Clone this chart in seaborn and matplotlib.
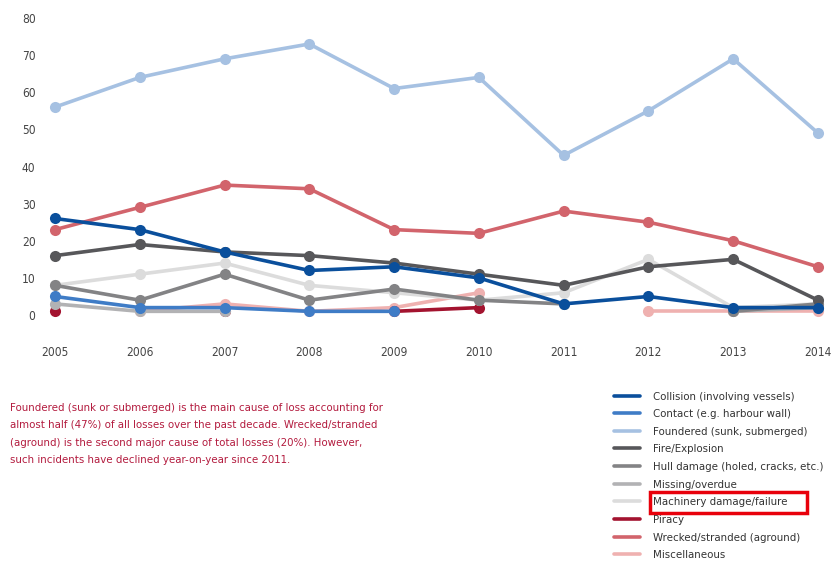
import numpy as np
import pandas as pd
import seaborn as sns
import matplotlib
matplotlib.use("Agg")
import matplotlib.pyplot as plt
from matplotlib.lines import Line2D
from matplotlib.patches import Rectangle
from matplotlib import font_manager

years = [2005, 2006, 2007, 2008, 2009, 2010, 2011, 2012, 2013, 2014]
nan = np.nan

collision = [26, 23, 17, 12, 13, 10, 3, 5, 2, 2]
contact = [5, 2, 2, 1, 1, nan, nan, nan, nan, nan]
foundered = [56, 64, 69, 73, 61, 64, 43, 55, 69, 49]
fire = [16, 19, 17, 16, 14, 11, 8, 13, 15, 4]
hull = [8, 4, 11, 4, 7, 4, 3, nan, 1, 3]
missing = [3, 1, 1, nan, nan, nan, nan, nan, 1, 2]
machinery = [8, 11, 14, 8, 6, 4, 6, 15, 2, 3]
piracy = [1, nan, 1, nan, 1, 2, nan, nan, nan, nan]
wrecked = [23, 29, 35, 34, 23, 22, 28, 25, 20, 13]
misc = [nan, 1, 3, 1, 2, 6, nan, 1, 1, 1]

labels = [
    "Collision (involving vessels)",
    "Contact (e.g. harbour wall)",
    "Foundered (sunk, submerged)",
    "Fire/Explosion",
    "Hull damage (holed, cracks, etc.)",
    "Missing/overdue",
    "Machinery damage/failure",
    "Piracy",
    "Wrecked/stranded (aground)",
    "Miscellaneous",
]
series = [collision, contact, foundered, fire, hull, missing,
          machinery, piracy, wrecked, misc]
colors = ["#0a4f9c", "#3f7cc6", "#a6c1e2", "#57575a", "#838385",
          "#b2b2b4", "#dcdcdc", "#a3132f", "#d2646c", "#efb1b0"]

note = ("Foundered (sunk or submerged) is the main cause of loss accounting for\n"
        "almost half (47%) of all losses over the past decade. Wrecked/stranded\n"
        "(aground) is the second major cause of total losses (20%). However,\n"
        "such incidents have declined year-on-year since 2011.")

sns.set_theme(style="white")

# prefer a condensed face when one is installed
condensed = [f for f in font_manager.fontManager.ttflist
             if "Condensed" in f.fname and "Bold" not in f.fname
             and "Oblique" not in f.fname and "Italic" not in f.fname]
if condensed:
    fam = condensed[0].name
    plt.rcParams["font.stretch"] = condensed[0].stretch
    size_scale = 1.0
else:
    fam = "Liberation Sans"
    size_scale = 0.92
plt.rcParams["font.family"] = [fam, "DejaVu Sans"]

fig = plt.figure(figsize=(8.33, 5.64), dpi=100)
ax = fig.add_axes([0.066, 0.4085, 0.916, 0.5596])

# draw each contiguous run of a series so missing years leave gaps
for lab, vals, col in reversed(list(zip(labels, series, colors))):
    df = pd.DataFrame({"year": years, "value": vals})
    ok = df["value"].notna()
    run_id = (~ok).cumsum()
    for _, seg in df[ok].groupby(run_id[ok]):
        sns.lineplot(data=seg, x="year", y="value", ax=ax, color=col,
                     linewidth=2.6, marker="o", markersize=8,
                     markeredgewidth=0, legend=False, clip_on=False)

ax.set_xlim(2005, 2014)
ax.set_ylim(-5, 80)
ax.set_yticks(range(0, 81, 10))
ax.set_xticks(years)
ax.set_xticklabels([str(y) for y in years])
ax.set_xlabel("")
ax.set_ylabel("")
for s in ax.spines.values():
    s.set_visible(False)
ax.tick_params(axis="both", length=0, labelsize=8.6 * size_scale, colors="#444444")
ax.tick_params(axis="y", pad=14)
ax.tick_params(axis="x", pad=9)

fig.text(0.012, 0.286, note, ha="left", va="top", fontsize=8.2 * size_scale,
         color="#b31b3e", linespacing=1.94)

lfs = 8.2 * size_scale
handles = [Line2D([0], [0], color=c, linewidth=2.6) for c in colors]
leg = fig.legend(handles, labels, loc="upper left",
                 bbox_to_anchor=(0.7316, 0.3138), frameon=False,
                 fontsize=lfs, handlelength=2.28, handletextpad=1.14,
                 labelspacing=0.67, borderaxespad=0)
for t in leg.get_texts():
    t.set_color("#333333")

fig.patches.append(Rectangle((650 / 833, 1 - 513 / 564), 157 / 833, 21 / 564,
                             transform=fig.transFigure, fill=False,
                             edgecolor="#e8000b", linewidth=2.5))

fig.savefig("out.png", dpi=100)
